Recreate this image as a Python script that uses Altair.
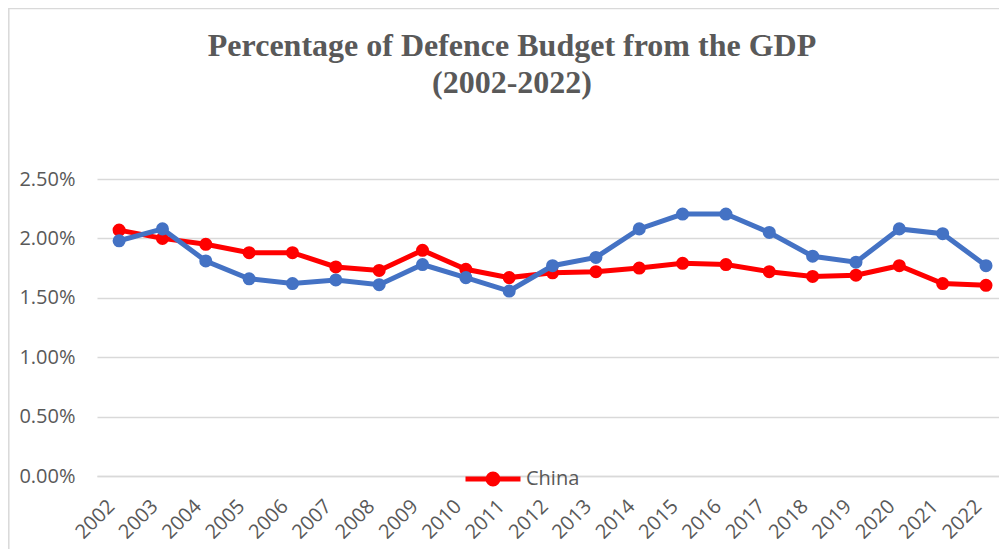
import altair as alt
import pandas as pd

years = list(range(2002, 2023))
china = [2.07, 2.00, 1.95, 1.88, 1.88, 1.76, 1.73, 1.90, 1.74, 1.67, 1.71,
         1.72, 1.75, 1.79, 1.78, 1.72, 1.68, 1.69, 1.77, 1.62, 1.605]
other = [1.98, 2.08, 1.81, 1.66, 1.62, 1.65, 1.61, 1.78, 1.67, 1.557, 1.77,
         1.84, 2.08, 2.205, 2.205, 2.05, 1.85, 1.80, 2.08, 2.04, 1.77]
series_names = ["China", "Other"]
series_colors = ["#FF0000", "#4472C4"]
y_ticks = [0, 0.005, 0.01, 0.015, 0.02, 0.025]

rows = []
for y, c, o in zip(years, china, other):
    rows.append({"year": y, "series": "China", "value": c / 100})
    rows.append({"year": y, "series": "Other", "value": o / 100})
df = pd.DataFrame(rows)

label_font = "Open Sans"
gray = "#595959"
grid = "#D9D9D9"

color = alt.Color(
    "series:N",
    scale=alt.Scale(domain=series_names, range=series_colors),
    legend=alt.Legend(
        values=["China"], title=None, orient="none", legendX=366, legendY=270,
        symbolType="M-1,0L1,0M-0.18,0A0.18,0.18,0,1,1,0.18,0A0.18,0.18,0,1,1,-0.18,0Z",
        symbolSize=3025, symbolStrokeWidth=5, symbolFillColor="#FF0000",
        symbolStrokeColor="#FF0000", labelFont=label_font, labelFontSize=20,
        labelColor=gray, labelOffset=3,
    ),
)

x = alt.X(
    "year:Q",
    scale=alt.Scale(domain=[2001.49, 2022.30], nice=False, zero=False),
    axis=alt.Axis(
        values=years, format="d", labelAngle=-45, labelAlign="right",
        labelBaseline="middle", labelPadding=27, labelOffset=-8, ticks=False,
        grid=False, domainColor=grid, domainWidth=1.5, labelFont=label_font,
        labelFontSize=20, labelColor=gray, title=None, labelFlush=False,
        labelOverlap=False,
    ),
)
y = alt.Y(
    "value:Q",
    scale=alt.Scale(domain=[0, 0.025], nice=False),
    axis=alt.Axis(
        values=y_ticks, format=".2%", ticks=False, domain=False,
        gridColor=grid, gridWidth=1.5, labelPadding=22, labelFont=label_font,
        labelFontSize=20, labelColor=gray, title=None,
    ),
)

base = alt.Chart(df).encode(x=x, y=y, color=color)
mk = dict(strokeWidth=5, point=alt.OverlayMarkDef(size=170, filled=True, opacity=1))
red = base.transform_filter(alt.datum.series == "China").mark_line(**mk)
blue = base.transform_filter(alt.datum.series == "Other").mark_line(**mk)

frame = alt.Chart(pd.DataFrame({"f": [0]})).mark_rect(
    filled=False, stroke=grid, strokeWidth=1.5
).encode(
    x=alt.value(-88.2), x2=alt.value(1010), y=alt.value(-170.5), y2=alt.value(600)
)

chart = alt.layer(frame, red, blue).properties(
    width=902, height=297,
    padding={"left": 89, "top": 171, "right": 0, "bottom": 73},
    autosize=alt.AutoSizeParams(type="none"),
    title=alt.TitleParams(
        text=["Percentage of Defence Budget from the GDP", "(2002-2022)"],
        font="Liberation Serif", fontSize=32, fontWeight="bold", color=gray,
        anchor="middle", frame="group", dx=-36, offset=-92.5, lineHeight=37,
    ),
).configure_view(stroke=None)

chart.save("out.html", embed_options={"renderer": "svg", "actions": False})
